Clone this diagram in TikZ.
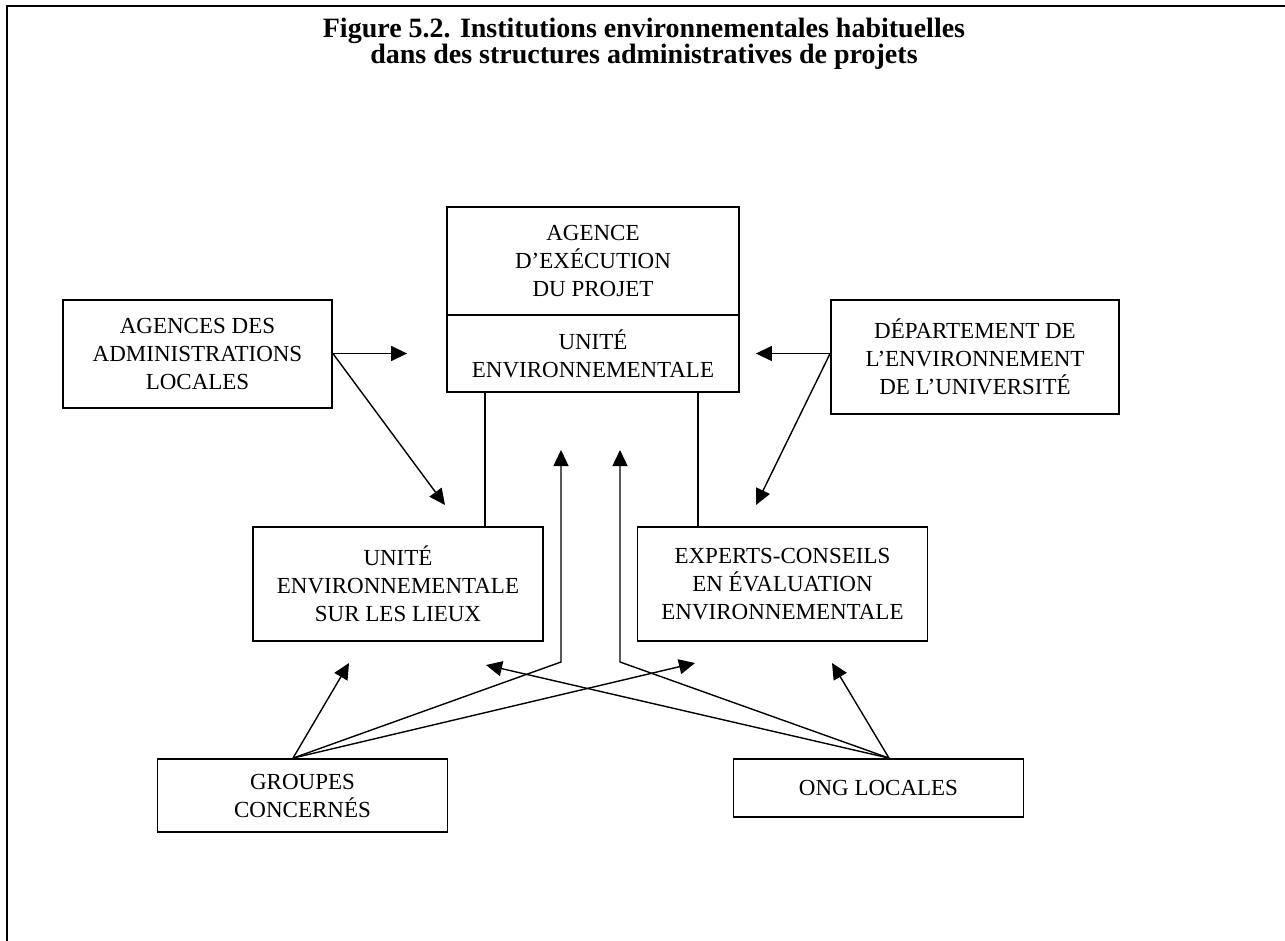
\documentclass[tikz,border=0pt]{standalone}
\usepackage{fontspec}
\setmainfont{Liberation Serif}
\usetikzlibrary{arrows.meta,positioning,calc}
\tikzset{
  blk/.style={draw,rectangle,line width=0.9pt,inner sep=0pt,align=center,font=\fontsize{11.5pt}{14pt}\selectfont},
  wideblk/.style={blk,minimum width=145pt},
  arr/.style={-{Triangle[length=8pt,width=7.5pt]},line width=0.7pt},
  lnk/.style={line width=0.7pt},
  ttl/.style={font=\fontsize{14pt}{13pt}\selectfont\bfseries,align=center}
}

\begin{document}
\begin{tikzpicture}[x=0.5pt,y=-0.5pt]
  \useasboundingbox (0,0) rectangle (1285,941);
  \draw[line width=1.3pt] (7,941) -- (7,6) -- (1285,6);
  \node[ttl,anchor=north] (title) at (644,11) {Figure 5.2. Institutions environnementales habituelles\\dans des structures administratives de projets};

  % centre
  \node[blk,minimum width=146pt,minimum height=54pt] (exec) at (593,261) {AGENCE\\D’EXÉCUTION\\DU PROJET};
  \node[blk,minimum width=146pt,minimum height=38.5pt,below=-0.9pt of exec] (unite) {UNITÉ\\ENVIRONNEMENTALE};
  \node[blk,minimum width=134.5pt,minimum height=54pt] (admin) at (197.5,354) {AGENCES DES\\ADMINISTRATIONS\\LOCALES};
  \node[blk,minimum width=144pt,minimum height=57pt] (dept) at (975,357) {DÉPARTEMENT DE\\L’ENVIRONNEMENT\\DE L’UNIVERSITÉ};
  \node[wideblk,minimum height=57pt] (lieux) at (398,584) {UNITÉ\\ENVIRONNEMENTALE\\SUR LES LIEUX};
  \node[wideblk,minimum height=57pt] (experts) at (782.5,584) {EXPERTS-CONSEILS\\EN ÉVALUATION\\ENVIRONNEMENTALE};
  \node[wideblk,minimum height=36.5pt] (grp) at (302.5,795.5) {GROUPES\\CONCERNÉS};
  \node[wideblk,minimum height=29pt] (ong) at (878.5,788) {ONG LOCALES};

  % links below the unit
  \coordinate (lk1) at ([xshift=19.5pt]unite.south west);
  \coordinate (lk2) at ([xshift=-21pt]unite.south east);
  \draw[lnk] (lk1) -- (lk1 |- lieux.north);
  \draw[lnk] (lk2) -- (lk2 |- experts.north);

  % side agencies
  \coordinate (atip) at ([xshift=-19.5pt]unite.west);
  \coordinate (atip2) at (445,505);
  \coordinate (dtip) at ([xshift=8pt]unite.east);
  \coordinate (dtip2) at (756,505);
  \draw[arr] (admin.east |- unite.west) -- (atip);
  \draw[arr] (admin.east |- unite.west) -- (atip2);
  \draw[arr] (dept.west |- unite.east) -- (dtip);
  \draw[arr] (dept.west |- unite.east) -- (dtip2);

  % groups and NGOs
  \coordinate (gsrc) at ($(grp.north)+(-9.5,0)$);
  \coordinate (osrc) at ($(ong.north)+(10.5,0)$);
  \coordinate (gtip1) at (349,663);
  \coordinate (gbend) at (561,662);
  \coordinate (gtip2) at (561,450);
  \coordinate (gtip3) at (695,663);
  \coordinate (otip1) at (832,663);
  \coordinate (obend) at (620,662);
  \coordinate (otip2) at (620,450);
  \coordinate (otip3) at (486,665);
  \draw[arr] (gsrc) -- (gtip1);
  \draw[arr] (gsrc) -- (gbend) -- (gtip2);
  \draw[arr] (gsrc) -- (gtip3);
  \draw[arr] (osrc) -- (otip1);
  \draw[arr] (osrc) -- (obend) -- (otip2);
  \draw[arr] (osrc) -- (otip3);
\end{tikzpicture}
\end{document}
